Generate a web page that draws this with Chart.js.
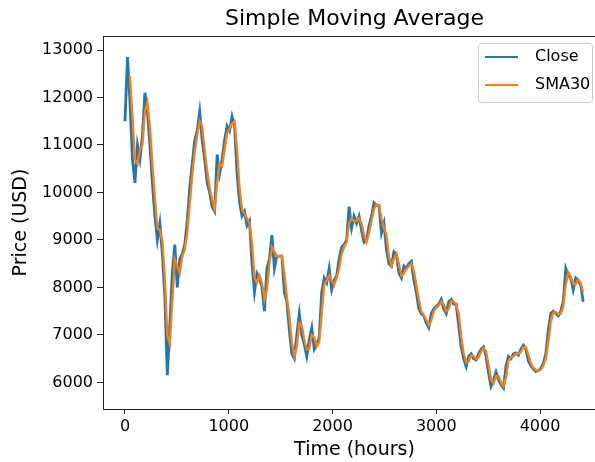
<!DOCTYPE html>
<html>
<head>
<meta charset="utf-8">
<script src="https://cdn.jsdelivr.net/npm/chart.js@4/dist/chart.umd.min.js"></script>
<style>
  html, body { margin: 0; padding: 0; background: #fff; overflow: hidden; }
  #wrap { width: 620px; height: 462px; }
</style>
</head>
<body>
<div id="wrap"><canvas id="chart" width="620" height="462"></canvas></div>
<script>
// time axis, one reading every 24 hours
const hours = [];
for (let h = 0; h <= 4416; h += 24) hours.push(h);

// Close price
const close = [
  11500, 12850, 11900, 10700, 10200, 11000, 10700, 11200, 12100, 11700,
  11000, 10200, 9500, 9000, 9350, 8700, 7800, 6150, 7200, 8300,
  8900, 8000, 8600, 8700, 8900, 9400, 10100, 10600, 11100, 11300,
  11700, 11100, 10700, 10200, 10000, 9700, 9600, 10800, 10400, 10700,
  11100, 11400, 11300, 11600, 11400, 10400, 9800, 9500, 9600, 9300,
  9400, 8500, 7900, 8300, 8200, 8000, 7500, 8400, 8600, 9100,
  8400, 8660, 8660, 8660, 7900, 7700, 7100, 6600, 6500,
  7000, 7450, 7000, 6800, 6550, 6900, 7150, 6700, 6800, 6950,
  7900, 8200, 8100, 8400, 7950, 8150, 8250, 8600, 8850, 8900,
  9000, 9700, 9250, 9500, 9350, 9500, 9200, 8950, 9000, 9300,
  9500, 9780, 9730, 9730, 9150, 9350, 8800, 8500, 8450,
  8750, 8700, 8300, 8200, 8450, 8400, 8500, 8550, 8150, 7900,
  7550, 7450, 7400, 7250, 7150, 7450, 7550, 7600, 7650, 7750,
  7550, 7450, 7700, 7750, 7650, 7650, 7200, 6750, 6500, 6330,
  6550, 6600, 6500, 6470, 6600, 6700, 6750, 6550, 6200, 5920,
  6050, 6220, 6050, 5950, 5880, 6350, 6550, 6500, 6600, 6620,
  6575, 6700, 6780, 6700, 6450, 6350, 6280, 6230, 6250, 6300,
  6400, 6600, 7100, 7450, 7500, 7450, 7400, 7500, 7700, 8400,
  8250, 8200, 7950, 8200, 8150, 8050, 7700
];

// 30 hour simple moving average
const sma30 = [
  null, null, 12450, 11600, 10700, 10600, 10900, 11000, 11700, 11900,
  11400, 10600, 9900, 9250, 9200, 9000, 8200, 7000, 6800, 7700,
  8600, 8450, 8300, 8650, 8800, 9150, 9750, 10350, 10850, 11200,
  11500, 11400, 10900, 10450, 10100, 9850, 9650, 10200, 10600, 10550,
  10900, 11250, 11350, 11450, 11500, 10900, 10100, 9650, 9550, 9450,
  9350, 8950, 8200, 8100, 8250, 8100, 7750, 7950, 8500, 8850,
  8750, 8660, 8660, 8660, 8300, 7800, 7400, 6850, 6550,
  6750, 7250, 7200, 6900, 6700, 6700, 7000, 6950, 6750, 6850,
  7450, 8050, 8150, 8250, 8150, 8050, 8200, 8400, 8700, 8850,
  8950, 9350, 9450, 9400, 9400, 9450, 9350, 9100, 8950, 9150,
  9400, 9650, 9750, 9730, 9450, 9250, 9100, 8650, 8450,
  8600, 8700, 8500, 8250, 8300, 8400, 8450, 8500, 8350, 8050,
  7750, 7500, 7420, 7320, 7200, 7300, 7500, 7570, 7620, 7700,
  7650, 7500, 7550, 7720, 7700, 7650, 7450, 6980, 6620, 6420,
  6440, 6570, 6550, 6490, 6530, 6650, 6720, 6650, 6380, 6060,
  5980, 6130, 6130, 6000, 5920, 6100, 6450, 6520, 6550, 6610,
  6600, 6640, 6740, 6740, 6580, 6400, 6310, 6260, 6240, 6270,
  6350, 6500, 6850, 7280, 7470, 7480, 7430, 7450, 7600, 8050,
  8320, 8230, 8080, 8070, 8170, 8100, 7900
];

const xTicks = [0, 1000, 2000, 3000, 4000];
const yTicks = [6000, 7000, 8000, 9000, 10000, 11000, 12000, 13000];

const FONT = 'DejaVu Sans';
const TITLE = 'Simple Moving Average';

// axes frame (matplotlib style box) and title centred over the axes
const frame = {
  id: 'frame',
  afterDatasetsDraw(chart) {
    const { ctx, chartArea: a } = chart;
    ctx.save();
    ctx.strokeStyle = '#222';
    ctx.lineWidth = 1;
    ctx.strokeRect(Math.round(a.left) + 0.5, Math.round(a.top) + 0.5,
      Math.round(a.right - a.left), Math.round(a.bottom - a.top));
    ctx.fillStyle = '#000';
    ctx.font = '22px ' + FONT;
    ctx.textAlign = 'center';
    ctx.textBaseline = 'middle';
    ctx.fillText(TITLE, (a.left + a.right) / 2, 19);
    ctx.restore();
  }
};

// legend box, upper right
const mplLegend = {
  id: 'mplLegend',
  afterDraw(chart) {
    const ctx = chart.ctx;
    const x = 478, y = 43, w = 114, h = 59;
    ctx.save();
    ctx.fillStyle = 'rgba(255,255,255,0.8)';
    ctx.strokeStyle = '#cccccc';
    ctx.lineWidth = 1;
    ctx.beginPath();
    ctx.roundRect(x + 0.5, y + 0.5, w, h, 3);
    ctx.fill();
    ctx.stroke();
    const items = [chart.data.datasets[0], chart.data.datasets[1]];
    ctx.font = '16px ' + FONT;
    ctx.textBaseline = 'middle';
    items.forEach((ds, i) => {
      const ly = 57 + i * 28;
      ctx.strokeStyle = ds.borderColor;
      ctx.lineWidth = 2;
      ctx.beginPath();
      ctx.moveTo(485, ly);
      ctx.lineTo(518, ly);
      ctx.stroke();
      ctx.fillStyle = '#000';
      ctx.fillText(ds.label, 535, ly);
    });
    ctx.restore();
  }
};

const ctx = document.getElementById('chart').getContext('2d');
const chart = new Chart(ctx, {
  type: 'line',
  data: {
    datasets: [
      {
        label: 'Close',
        data: hours.map((h, i) => ({ x: h, y: close[i] })),
        borderColor: '#1f77b4',
        borderWidth: 2.8,
        pointRadius: 0,
        tension: 0,
        order: 2
      },
      {
        label: 'SMA30',
        data: hours.map((h, i) => ({ x: h, y: sma30[i] })),
        borderColor: '#ff7f0e',
        borderWidth: 2.3,
        pointRadius: 0,
        tension: 0,
        order: 1
      }
    ]
  },
  options: {
    responsive: false,
    animation: false,
    devicePixelRatio: 1,
    layout: { padding: { left: 0, right: 14, top: 36, bottom: 0 } },
    plugins: {
      legend: { display: false },
      tooltip: { enabled: false },
      title: { display: false }
    },
    scales: {
      x: {
        type: 'linear',
        min: -212,
        max: 4636,
        afterBuildTicks: s => { s.ticks = xTicks.map(v => ({ value: v })); },
        afterFit: s => { s.height = 53; },
        grid: { display: true, drawOnChartArea: false, drawTicks: true, tickLength: 5, color: '#222' },
        border: { display: false },
        ticks: { color: '#000', font: { family: FONT, size: 16 }, padding: 3, maxRotation: 0,
          callback: v => String(v) },
        title: { display: true, text: 'Time (hours)', color: '#000',
          font: { family: FONT, size: 19 }, padding: { top: 0, bottom: 1 } }
      },
      y: {
        min: 5440,
        max: 13295,
        afterBuildTicks: s => { s.ticks = yTicks.map(v => ({ value: v })); },
        afterFit: s => { s.width = 103; },
        grid: { display: true, drawOnChartArea: false, drawTicks: true, tickLength: 6, color: '#222' },
        border: { display: false },
        ticks: { color: '#000', font: { family: FONT, size: 16 }, padding: 4,
          callback: v => String(v) },
        title: { display: true, text: 'Price (USD)', color: '#000',
          font: { family: FONT, size: 19 }, padding: { top: 10, bottom: 0 } }
      }
    }
  },
  plugins: [frame, mplLegend]
});
</script>
</body>
</html>
